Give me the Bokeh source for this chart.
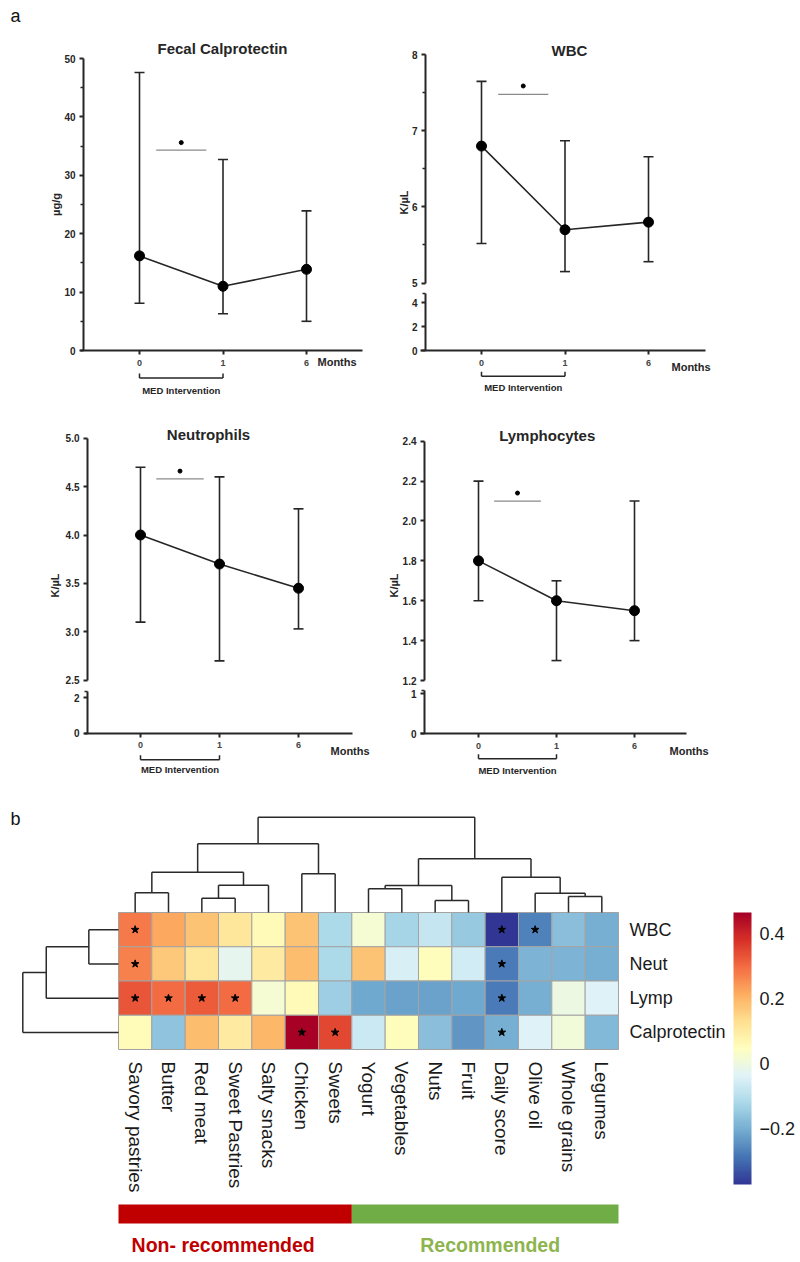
import math
from bokeh.plotting import figure
from bokeh.models import (Range1d, FixedTicker, LinearAxis, Whisker, TeeHead, ColumnDataSource,
                          Label, LinearColorMapper, ColorBar, PrintfTickFormatter)
from bokeh.layouts import row, column
from bokeh.embed import file_html
from bokeh.resources import INLINE
from bokeh.core.properties import value

FONT = "Liberation Sans"
INK = "#262626"

# ---------------- panel a : data ----------------
months = ["0", "1", "6"]

calpro_mean = [16.2, 11.0, 13.9]
calpro_low = [8.1, 6.3, 5.0]
calpro_high = [47.6, 32.7, 23.9]

wbc_mean = [6.8, 5.7, 5.8]
wbc_low = [5.52, 5.15, 5.28]
wbc_high = [7.65, 6.87, 6.66]

neut_mean = [4.0, 3.7, 3.45]
neut_low = [3.1, 2.7, 3.03]
neut_high = [4.7, 4.6, 4.27]

lymp_mean = [1.8, 1.6, 1.55]
lymp_low = [1.6, 1.3, 1.4]
lymp_high = [2.2, 1.7, 2.1]

calpro_ticks = [0, 10, 20, 30, 40, 50]
calpro_minor = [5, 15, 25, 35, 45]
wbc_ticks_upper = [5, 6, 7, 8]
wbc_minor_upper = [5.5, 6.5, 7.5]
wbc_ticks_lower = [0, 2, 4]
neut_ticks_upper = [2.5, 3.0, 3.5, 4.0, 4.5, 5.0]
neut_ticks_lower = [0, 2]
lymp_ticks_upper = [1.2, 1.4, 1.6, 1.8, 2.0, 2.2, 2.4]
lymp_ticks_lower = [0, 1]

# significance (0 vs 1 month): bar level, marker level
calpro_sig = (34.3, 35.6)
wbc_sig = (7.48, 7.59)
neut_sig = (4.58, 4.66)
lymp_sig = (2.10, 2.14)

# ---------------- panel b : data ----------------
foods = ["Savory pastries", "Butter", "Red meat", "Sweet Pastries", "Salty snacks", "Chicken",
         "Sweets", "Yogurt", "Vegetables", "Nuts", "Fruit", "Daily score", "Olive oil",
         "Whole grains", "Legumes"]
food_group = ["Non-recommended", "Non-recommended", "Non-recommended", "Non-recommended",
              "Non-recommended", "Non-recommended", "Non-recommended", "Recommended",
              "Recommended", "Recommended", "Recommended", "Recommended", "Recommended",
              "Recommended", "Recommended"]
markers = ["WBC", "Neut", "Lymp", "Calprotectin"]

corr_wbc = [0.28, 0.22, 0.18, 0.11, 0.06, 0.18, -0.12, 0.02, -0.13, -0.08, -0.15, -0.37, -0.27, -0.17, -0.20]
corr_neut = [0.27, 0.17, 0.11, -0.02, 0.10, 0.19, -0.12, 0.18, -0.05, 0.05, -0.06, -0.28, -0.19, -0.19, -0.20]
corr_lymp = [0.33, 0.30, 0.32, 0.30, 0.02, 0.06, -0.14, -0.21, -0.22, -0.22, -0.21, -0.28, -0.20, -0.005, -0.04]
corr_calpro = [0.055, -0.16, 0.19, 0.10, 0.20, 0.46, 0.35, -0.07, 0.05, -0.17, -0.24, -0.20, -0.04, 0.01, -0.18]

sig_wbc = [1, 0, 0, 0, 0, 0, 0, 0, 0, 0, 0, 1, 1, 0, 0]
sig_neut = [1, 0, 0, 0, 0, 0, 0, 0, 0, 0, 0, 1, 0, 0, 0]
sig_lymp = [1, 1, 1, 1, 0, 0, 0, 0, 0, 0, 0, 1, 0, 0, 0]
sig_calpro = [0, 0, 0, 0, 0, 1, 1, 0, 0, 0, 0, 1, 0, 0, 0]

# dendrograms: (child_a, child_b, merge height); leaves numbered first, new clusters follow
col_links = [(0, 1, 0.207), (2, 3, 0.150), (16, 4, 0.286), (15, 17, 0.423), (5, 6, 0.406),
             (18, 19, 0.721), (7, 8, 0.249), (9, 10, 0.126), (21, 22, 0.283), (13, 14, 0.168),
             (12, 24, 0.203), (11, 25, 0.370), (23, 26, 0.563), (20, 27, 1.0)]
row_links = [(0, 1, 0.31), (4, 2, 0.755), (5, 3, 1.0)]

cbar_low, cbar_high = -0.372, 0.465
cbar_ticks = [-0.2, 0, 0.2, 0.4]
group_labels = {"Non-recommended": "Non- recommended", "Recommended": "Recommended"}
group_colors = {"Non-recommended": "#C00000", "Recommended": "#70AD47"}
group_text_colors = {"Non-recommended": "#C00000", "Recommended": "#8DB44E"}

month_pos = list(range(len(months)))


# ---------------- helpers ----------------
class Frame:
    """Page box of a figure plus the pixel <-> data mapping used for its ranges."""

    def __init__(self, left, top, width, height, x0px, xstep, y0px, y0val, ystep):
        self.left, self.top, self.width, self.height = left, top, width, height
        self.x0px, self.xstep, self.y0px, self.y0val, self.ystep = x0px, xstep, y0px, y0val, ystep

    def fx(self, px):
        return (px - self.x0px) / self.xstep

    def fy(self, py):
        return self.y0val + (self.y0px - py) / self.ystep

    def figure(self):
        p = figure(width=self.width, height=self.height,
                   x_range=Range1d(self.fx(self.left), self.fx(self.left + self.width)),
                   y_range=Range1d(self.fy(self.top + self.height), self.fy(self.top)),
                   output_backend="svg", toolbar_location=None,
                   x_axis_location=None, y_axis_location=None, min_border=0)
        p.outline_line_color = None
        p.grid.visible = False
        return p


def style_axis(ax, fs):
    ax.axis_line_color = INK
    ax.axis_line_width = 2
    ax.major_tick_line_color = INK
    ax.major_tick_line_width = 2
    ax.major_tick_in = 0
    ax.major_tick_out = 4
    ax.minor_tick_line_color = INK
    ax.minor_tick_line_width = 1.5
    ax.minor_tick_in = 0
    ax.minor_tick_out = 3
    ax.major_label_standoff = 4
    ax.major_label_text_font = FONT
    ax.major_label_text_font_style = "bold"
    ax.major_label_text_font_size = fs
    ax.major_label_text_color = INK


def y_axis(p, fr, axis_px, lo, hi, ticks, fmt, minor=None):
    ax = LinearAxis(ticker=FixedTicker(ticks=ticks, minor_ticks=minor or []),
                    formatter=PrintfTickFormatter(format=fmt),
                    fixed_location=fr.fx(axis_px), bounds=(lo, hi))
    style_axis(ax, "10px")
    p.add_layout(ax, "left")


def x_axis(p, fr, from_px, to_px):
    ax = LinearAxis(ticker=FixedTicker(ticks=month_pos),
                    major_label_overrides={i: m for i, m in zip(month_pos, months)},
                    fixed_location=0, bounds=(fr.fx(from_px), fr.fx(to_px)))
    style_axis(ax, "9px")
    ax.major_label_text_color = "#444444"
    ax.major_label_standoff = 5
    p.add_layout(ax, "below")


def text(p, x, y, txt, size, bold=True, align="center", angle=0.0, color=INK):
    p.add_layout(Label(x=x, y=y, text=txt, angle=angle, text_font=FONT, text_font_size=size,
                       text_font_style="bold" if bold else "normal", text_color=color,
                       text_align=align, text_baseline="middle"))


def draw_series(p, mean, low, high, sig):
    src = ColumnDataSource(dict(x=month_pos, m=mean, lo=low, hi=high))
    p.add_layout(Whisker(base="x", lower="lo", upper="hi", source=src,
                         line_color=INK, line_width=1.6,
                         upper_head=TeeHead(size=10, line_color=INK, line_width=1.6),
                         lower_head=TeeHead(size=10, line_color=INK, line_width=1.6)))
    p.line("x", "m", source=src, line_color=INK, line_width=1.6)
    p.scatter("x", "m", source=src, size=10, color="black")
    a, b = month_pos[0], month_pos[1]
    p.segment(x0=[a + 0.2 * (b - a)], y0=[sig[0]], x1=[a + 0.8 * (b - a)], y1=[sig[0]],
              line_color="#8a8a8a", line_width=1.2)
    p.scatter(x=[(a + b) / 2], y=[sig[1]], size=4, color="black")


def month_extras(p, fr, months_px, months_py, bracket_py, med_py):
    text(p, fr.fx(months_px), fr.fy(months_py), "Months", "11px", align="left")
    a, b = month_pos[0], month_pos[1]
    yb = fr.fy(bracket_py)
    yt = fr.fy(bracket_py - 4.5)
    p.segment(x0=[a, a, b], y0=[yt, yb, yb], x1=[a, b, b], y1=[yb, yb, yt],
              line_color=INK, line_width=1.5)
    text(p, (a + b) / 2, fr.fy(med_py), "MED Intervention", "9.5px")


# ---------------- Fecal calprotectin ----------------
f_cal = Frame(0, 0, 384, 400, 139, 83.5, 350, 0, 5.84)
cal = f_cal.figure()
y_axis(cal, f_cal, 83, 0, 50, calpro_ticks, "%d", calpro_minor)
x_axis(cal, f_cal, 80, 362)
draw_series(cal, calpro_mean, calpro_low, calpro_high, calpro_sig)
text(cal, f_cal.fx(222), f_cal.fy(47.5), "Fecal Calprotectin", "15px")
text(cal, f_cal.fx(15), f_cal.fy(15), "a", "18px", bold=False, color="#111111")
text(cal, f_cal.fx(55), f_cal.fy(204), "µg/g", "11px", angle=math.pi / 2)
month_extras(cal, f_cal, 317, 361, 377.5, 390)

# ---------------- WBC (broken axis) ----------------
f_wu = Frame(384, 0, 412, 288, 481, 83.5, 282.5, 5, 76.07)
wu = f_wu.figure()
y_axis(wu, f_wu, 425, 5, 8, wbc_ticks_upper, "%d", wbc_minor_upper)
draw_series(wu, wbc_mean, wbc_low, wbc_high, wbc_sig)
text(wu, f_wu.fx(569), f_wu.fy(50), "WBC", "15px")
text(wu, f_wu.fx(403), f_wu.fy(202), "K/µL", "11px", angle=math.pi / 2)
f_wl = Frame(384, 288, 412, 112, 481, 83.5, 350, 0, 11.93)
wl = f_wl.figure()
y_axis(wl, f_wl, 425, 0, 4.8, wbc_ticks_lower, "%d", [4.8])
x_axis(wl, f_wl, 420, 705)
month_extras(wl, f_wl, 671, 366.7, 375.7, 387.3)

# ---------------- Neutrophils (broken axis) ----------------
f_nu = Frame(0, 400, 384, 286, 140, 79, 679.7, 2.5, 96.8)
nu = f_nu.figure()
y_axis(nu, f_nu, 87, 2.5, 5.0, neut_ticks_upper, "%.1f")
draw_series(nu, neut_mean, neut_low, neut_high, neut_sig)
text(nu, f_nu.fx(208), f_nu.fy(434), "Neutrophils", "15px")
text(nu, f_nu.fx(54), f_nu.fy(585), "K/µL", "11px", angle=math.pi / 2)
f_nl = Frame(0, 686, 384, 106, 140, 79, 732.7, 0, 17.85)
nl = f_nl.figure()
y_axis(nl, f_nl, 87, 0, 2.34, neut_ticks_lower, "%d", [2.34])
x_axis(nl, f_nl, 84, 352)
month_extras(nl, f_nl, 330, 750, 759.3, 769.3)

# ---------------- Lymphocytes (broken axis) ----------------
f_lu = Frame(384, 400, 412, 286, 478, 78, 680, 1.2, 199.4)
lu = f_lu.figure()
y_axis(lu, f_lu, 424, 1.2, 2.4, lymp_ticks_upper, "%.1f")
draw_series(lu, lymp_mean, lymp_low, lymp_high, lymp_sig)
text(lu, f_lu.fx(546.7), f_lu.fy(435), "Lymphocytes", "15px")
text(lu, f_lu.fx(393), f_lu.fy(585), "K/µL", "11px", angle=math.pi / 2)
f_ll = Frame(384, 686, 412, 106, 478, 78, 733, 0, 40)
ll = f_ll.figure()
y_axis(ll, f_ll, 424, 0, 1.075, lymp_ticks_lower, "%d", [1.075])
x_axis(ll, f_ll, 420, 686)
month_extras(ll, f_ll, 669, 750, 758.3, 770)


# ---------------- heatmap ----------------
def blend(colors, n):
    rgb = [tuple(int(c[i:i + 2], 16) for i in (1, 3, 5)) for c in colors]
    out = []
    for k in range(n):
        t = k * (len(rgb) - 1) / (n - 1)
        i = min(int(t), len(rgb) - 2)
        f = t - i
        out.append("#%02x%02x%02x" % tuple(round(rgb[i][c] * (1 - f) + rgb[i + 1][c] * f) for c in range(3)))
    return out


rdylbu = ["#a50026", "#d73027", "#f46d43", "#fdae61", "#fee090", "#ffffbf",
          "#e0f3f8", "#abd9e9", "#74add1", "#4575b4", "#313695"]
palette = blend(list(reversed(rdylbu)), 256)
mapper = LinearColorMapper(palette=palette, low=cbar_low, high=cbar_high)

n_col, n_row = len(foods), len(markers)
f_h = Frame(0, 792, 728, 408, 118, 33.333, 1049, 0, 34.25)
heat = f_h.figure()
# dendrogram scales: column tree height (0 at heatmap top, 1 = root) and row tree height
f_cd = Frame(0, 792, 728, 408, 118, 33.333, 912, 0, 95.3)
f_rd = Frame(0, 792, 728, 408, 118, -95.7, 1049, 0, 34.25)
heat.extra_y_ranges = {"cd": Range1d(f_cd.fy(1200), f_cd.fy(792))}
heat.extra_x_ranges = {"rd": Range1d(f_rd.fx(0), f_rd.fx(728))}

rows_vals = [corr_wbc, corr_neut, corr_lymp, corr_calpro]
rows_sig = [sig_wbc, sig_neut, sig_lymp, sig_calpro]
cx, cy, cv, sx, sy = [], [], [], [], []
for i, (vals, sg) in enumerate(zip(rows_vals, rows_sig)):
    for j, v in enumerate(vals):
        cx.append(j + 0.5)
        cy.append(n_row - 1 - i + 0.5)
        cv.append(v)
        if sg[j]:
            sx.append(j + 0.5)
            sy.append(n_row - 1 - i + 0.5)
heat.rect(x="x", y="y", width=1, height=1, source=ColumnDataSource(dict(x=cx, y=cy, v=cv)),
          fill_color={"field": "v", "transform": mapper}, line_color="#a3a3a3", line_width=1)
heat.scatter(x=sx, y=sy, marker="star", size=8, color="black")


def dendro(links, leaf_pos):
    pos = list(leaf_pos)
    hgt = [0.0] * len(leaf_pos)
    a0, a1, h0, h1 = [], [], [], []
    for a, b, h in links:
        for c in (a, b):
            a0.append(pos[c]); a1.append(pos[c]); h0.append(hgt[c]); h1.append(h)
        a0.append(pos[a]); a1.append(pos[b]); h0.append(h); h1.append(h)
        pos.append((pos[a] + pos[b]) / 2)
        hgt.append(h)
    return a0, a1, h0, h1


a0, a1, h0, h1 = dendro(col_links, [j + 0.5 for j in range(n_col)])
heat.segment(x0=a0, y0=h0, x1=a1, y1=h1, y_range_name="cd", line_color="#2a2a2a", line_width=1.5)
a0, a1, h0, h1 = dendro(row_links, [n_row - 1 - i + 0.5 for i in range(n_row)])
heat.segment(x0=h0, y0=a0, x1=h1, y1=a1, x_range_name="rd", line_color="#2a2a2a", line_width=1.5)

xa = LinearAxis(ticker=FixedTicker(ticks=[j + 0.5 for j in range(n_col)]),
                major_label_overrides={j + 0.5: f for j, f in enumerate(foods)},
                fixed_location=0)
ya2 = LinearAxis(ticker=FixedTicker(ticks=[n_row - 1 - i + 0.5 for i in range(n_row)]),
                 major_label_overrides={n_row - 1 - i + 0.5: m for i, m in enumerate(markers)},
                 fixed_location=n_col)
for ax in (xa, ya2):
    ax.axis_line_color = None
    ax.major_tick_line_color = None
    ax.minor_tick_line_color = None
    ax.major_label_text_font = FONT
    ax.major_label_text_color = "#1a1a1a"
xa.major_label_text_font_size = "19px"
ya2.major_label_text_font_size = "18px"
xa.major_label_orientation = -math.pi / 2
xa.major_label_standoff = 6
ya2.major_label_standoff = 5
heat.add_layout(xa, "below")
heat.add_layout(ya2, "right")
text(heat, f_h.fx(15), f_h.fy(818), "b", "18px", bold=False, color="#111111")

# ---------------- colour bar ----------------
cbf = figure(width=68, height=408, x_range=Range1d(0, 1), y_range=Range1d(0, 1),
             output_backend="svg", toolbar_location=None, x_axis_location=None,
             y_axis_location=None, min_border_left=5, min_border_right=0,
             min_border_top=120, min_border_bottom=16)
cbf.outline_line_color = None
cbf.grid.visible = False
cb = ColorBar(color_mapper=mapper, ticker=FixedTicker(ticks=cbar_ticks),
              major_label_overrides={-0.2: "\u22120.2", 0: "0", 0.2: "0.2", 0.4: "0.4"},
              width=18, height=272, location="top_left", padding=0, margin=0,
              label_standoff=8, major_tick_line_color=None, bar_line_color=None,
              major_label_text_font=FONT, major_label_text_font_size="18px",
              major_label_text_color="#1a1a1a", background_fill_alpha=0, border_line_color=None)
cbf.add_layout(cb)

# ---------------- group bar ----------------
groups = []
for g in food_group:
    if g not in groups:
        groups.append(g)
g_left = [food_group.index(g) for g in groups]
g_right = [len(food_group) - food_group[::-1].index(g) for g in groups]
f_g = Frame(0, 1200, 796, 58, 118, 33.333, 1258, 0, 1)
gb = f_g.figure()
gb.quad(left=g_left, right=g_right, bottom=f_g.fy(1223), top=f_g.fy(1204),
        color=[group_colors[g] for g in groups], line_color=None)
gsrc = ColumnDataSource(dict(x=[(l + r) / 2 for l, r in zip(g_left, g_right)],
                             y=[f_g.fy(1244.5)] * len(groups),
                             t=[group_labels[g] for g in groups],
                             c=[group_text_colors[g] for g in groups],
                             dx=[-12, 5]))
gb.text(x="x", y="y", text="t", text_color="c", x_offset="dx", source=gsrc,
        text_font=value(FONT), text_font_style="bold", text_font_size="19.5px",
        text_align="center", text_baseline="middle")

layout = column(row(cal, column(wu, wl)),
                row(column(nu, nl), column(lu, ll)),
                row(column(heat), column(cbf)),
                gb)
open("out.html", "w").write(file_html(layout, INLINE))
